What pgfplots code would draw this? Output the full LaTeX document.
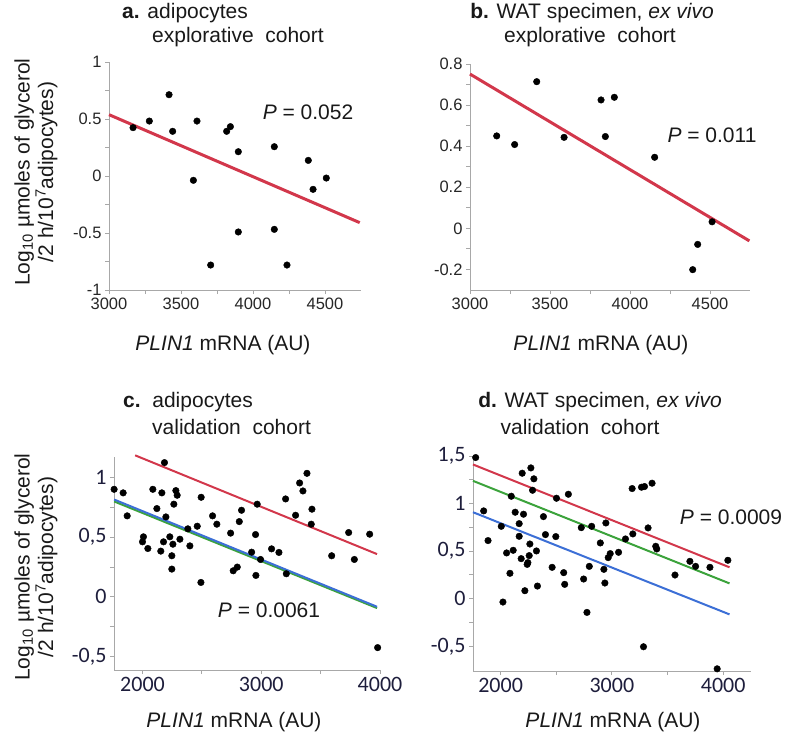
\documentclass[border=0pt]{standalone}
\usepackage{fontspec}
\setmainfont{Liberation Sans}
\newfontfamily\calib{Carlito}
\usepackage{pgfplots}
\pgfplotsset{compat=1.18}
\definecolor{cred}{HTML}{D2374B}
\definecolor{cblue}{HTML}{3C6FD6}
\definecolor{cgreen}{HTML}{3CA33C}
\definecolor{axg}{HTML}{A8A8A8}
\definecolor{navy}{HTML}{1E1E3C}
\def\lab{\fontsize{21}{23.5}\selectfont}
\pgfplotsset{
  base/.style={
    scale only axis, clip=false,
    axis x line*=bottom, axis y line*=left,
    axis line style={draw=axg, line width=0.9pt, -},
    every tick/.style={axg, line width=0.9pt},
    tick align=outside, major tick length=4pt, minor tick length=4pt,
    minor tick num=1,
    /pgf/number format/assume math mode=true,
    anchor=south west,
  },
  ab/.style={base,
    ticklabel style={font=\fontsize{16.5}{18}\selectfont, text=black!85},
    /pgf/number format/1000 sep={},
  },
  cd/.style={base,
    ticklabel style={font=\calib\fontsize{22}{24}\selectfont, text=navy},
    /pgf/number format/use comma,
    /pgf/number format/1000 sep={},
  },
  pts/.style={only marks, mark=*, mark size=3.3pt, black},
}
\begin{document}
\begin{tikzpicture}[x=1pt,y=1pt]
\useasboundingbox (0pt,0pt) rectangle (787pt,-739pt);
% ---------- panel a
\begin{axis}[ab, at={(109pt,-290pt)}, width=252pt, height=228pt,
  xmin=3000, xmax=4750, ymin=-1, ymax=1,
  xtick={3000,3500,4000,4500}, ytick={-1,-0.5,0,0.5,1}]
\addplot[pts] coordinates {
(3167,0.424) (3280,0.482) (3417,0.713) (3442,0.392) (3611,0.482) (3586,-0.038)
(3706,-0.781) (3817,0.392) (3843,0.433) (3898,0.213) (3898,-0.491) (4148,0.257)
(4148,-0.468) (4236,-0.781) (4384,0.137) (4417,-0.117) (4509,-0.018)};
\addplot[cred, line width=3pt] coordinates {(3000,0.538) (4741,-0.409)};
\end{axis}
% ---------- panel b
\begin{axis}[ab, at={(470pt,-290pt)}, width=280pt, height=226pt,
  xmin=3000, xmax=4750, ymin=-0.3, ymax=0.8,
  xtick={3000,3500,4000,4500}, ytick={-0.2,0,0.2,0.4,0.6,0.8}]
\addplot[pts] coordinates {
(3167,0.450) (3279,0.408) (3417,0.714) (3588,0.443) (3819,0.625) (3846,0.447)
(3902,0.638) (4154,0.346) (4392,-0.201) (4423,-0.078) (4513,0.032)};
\addplot[cred, line width=3pt] coordinates {(3000,0.751) (4746,-0.061)};
\end{axis}
% ---------- panel c
\begin{axis}[cd, at={(114pt,-670pt)}, width=266pt, height=213pt,
  xmin=1760, xmax=4000, ymin=-0.615, ymax=1.173,
  xtick={2000,3000,4000}, ytick={-0.5,0,0.5,1}]
\addplot[pts] coordinates {
(1761,0.902) (1837,0.872) (1871,0.679) (2000,0.461) (2008,0.503) (2045,0.405)
(2087,0.902) (2121,0.740) (2154,0.383) (2163,0.872) (2177,0.461) (2185,1.126)
(2197,0.670) (2230,0.503) (2247,0.344) (2247,0.232) (2256,0.441) (2264,0.777)
(2281,0.891) (2292,0.852) (2315,0.483) (2382,0.570) (2399,0.427) (2461,0.592)
(2494,0.835) (2492,0.120) (2590,0.679) (2626,0.609) (2742,0.534) (2764,0.218)
(2798,0.249) (2815,0.631) (2834,0.726) (2919,0.374) (2952,0.522) (2955,0.179)
(2966,0.777) (2994,0.313) (3087,0.402) (3149,0.372) (3205,0.821) (3211,0.193)
(3289,0.684) (3323,0.955) (3351,0.888) (3385,1.036) (3427,0.735) (3421,0.609)
(3593,0.344) (3736,0.539) (3784,0.313) (3913,0.525) (3980,-0.427)};
\addplot[cred, line width=2pt] coordinates {(1938,1.187) (3975,0.358)};
\addplot[cgreen, line width=2pt] coordinates {(1761,0.800) (3975,-0.095)};
\addplot[cblue, line width=2pt] coordinates {(1761,0.816) (3975,-0.084)};
\end{axis}
% ---------- panel d
\begin{axis}[cd, at={(473pt,-671pt)}, width=278pt, height=215pt,
  xmin=1752, xmax=4250, ymin=-0.76, ymax=1.5,
  xtick={2000,3000,4000}, ytick={-0.5,0,0.5,1,1.5}]
\addplot[pts] coordinates {
(1776,1.484) (1848,0.923) (1887,0.611) (2006,0.761) (2021,-0.035) (2054,0.481)
(2084,0.267) (2096,1.077) (2113,0.509) (2131,0.909) (2167,0.789) (2167,0.656)
(2185,0.421) (2194,1.319) (2206,0.888) (2218,0.084) (2239,0.361) (2245,0.379)
(2257,0.453) (2263,0.575) (2272,1.375) (2287,1.140) (2299,1.260) (2322,0.502)
(2331,0.133) (2385,0.863) (2403,0.674) (2463,0.330) (2496,0.653) (2502,1.056)
(2567,0.274) (2576,0.151) (2609,1.098) (2725,0.747) (2746,0.207) (2776,-0.144)
(2797,0.340) (2818,0.761) (2896,0.586) (2928,0.309) (2937,0.165) (2946,0.796)
(2967,0.432) (2985,0.474) (3060,0.488) (3122,0.628) (3188,0.681) (3182,1.158)
(3266,1.172) (3293,1.179) (3284,-0.505) (3325,0.744) (3361,1.214) (3394,0.551)
(3403,0.523) (3567,0.249) (3701,0.393) (3752,0.340) (3881,0.330) (3946,-0.737)
(4042,0.404)};
\addplot[cred, line width=2pt] coordinates {(1752,1.411) (4057,0.330)};
\addplot[cgreen, line width=2pt] coordinates {(1752,1.239) (4057,0.161)};
\addplot[cblue, line width=2pt] coordinates {(1752,0.909) (4057,-0.165)};
\end{axis}
% ---------- texts
\begin{scope}[every node/.style={inner sep=0pt, font=\lab, text=black!90}]
\node[anchor=west] at (122pt,-13pt) {\textbf{a.} adipocytes};
\node[anchor=west] at (152pt,-37pt) {explorative\ \ cohort};
\node at (592pt,-13pt) {\textbf{b.} WAT specimen, \textit{ex vivo}};
\node at (590pt,-37pt) {explorative\ \ cohort};
\node[anchor=west] at (123pt,-402pt) {\textbf{c.}\ \ adipocytes};
\node[anchor=west] at (152pt,-427pt) {validation\ \ cohort};
\node at (600pt,-402pt) {\textbf{d.} WAT specimen, \textit{ex vivo}};
\node at (580pt,-427pt) {validation\ \ cohort};
\node at (223pt,-345pt) {\textit{PLIN1} mRNA (AU)};
\node at (601pt,-345pt) {\textit{PLIN1} mRNA (AU)};
\node at (234pt,-722pt) {\textit{PLIN1} mRNA (AU)};
\node at (613pt,-722pt) {\textit{PLIN1} mRNA (AU)};
\node at (308pt,-112pt) {\textit{P} = 0.052};
\node at (712pt,-135pt) {\textit{P} = 0.011};
\node at (269pt,-610pt) {\textit{P} = 0.0061};
\node at (731pt,-517pt) {\textit{P} = 0.0009};
\node[rotate=90, align=center] at (36pt,-172pt) {Log\textsubscript{10} µmoles of glycerol\\/2 h/10\textsuperscript{7}adipocytes)};
\node[rotate=90, align=center] at (36pt,-567pt) {Log\textsubscript{10} µmoles of glycerol\\/2 h/10\textsuperscript{7}adipocytes)};
\end{scope}
\end{tikzpicture}
\end{document}
